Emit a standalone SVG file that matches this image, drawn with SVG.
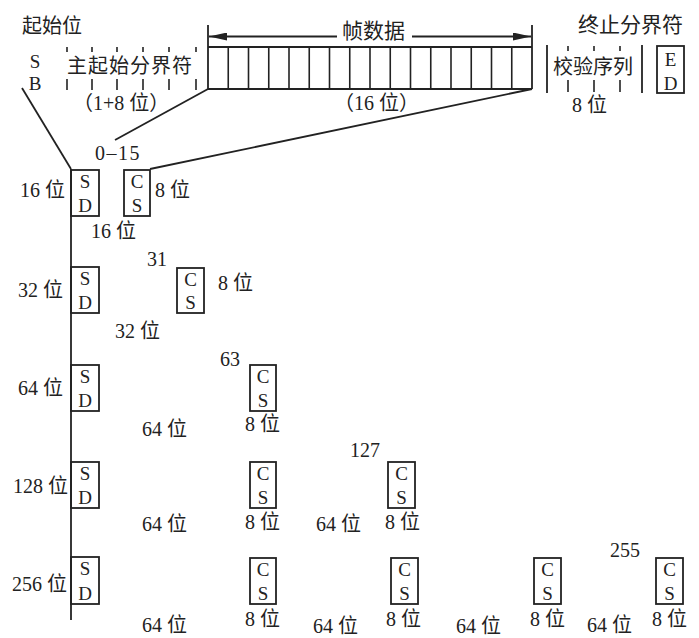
<svg xmlns="http://www.w3.org/2000/svg" width="699" height="638" viewBox="0 0 699 638">
<style>
.t{font-family:"Liberation Serif","Noto Sans CJK SC",serif;font-size:20px;fill:#222}
.c{font-family:"Noto Sans CJK SC","Liberation Serif",sans-serif;fill:#222}
.b{font-family:"Liberation Serif",serif;font-size:19px;fill:#222;text-anchor:middle}
.bx{fill:none;stroke:#222;stroke-width:1.8}
.ln{fill:none;stroke:#222;stroke-width:1.8}
.cell{stroke:#222;stroke-width:1.6}
.tk{stroke:#222;stroke-width:1.6}
</style>
<defs>
<marker id="ah" viewBox="0 0 18 8" refX="18" refY="4" markerWidth="18" markerHeight="8" markerUnits="userSpaceOnUse" orient="auto">
<path d="M0,0 L18,4 L0,8 Z" fill="#222"/>
</marker>
</defs>
<rect width="699" height="638" fill="#fff"/>

<g id="start-bit">
<text class="c" x="22" y="33" font-size="20">起始位</text>
<text class="b" x="35" y="68" font-size="16">S</text>
<text class="b" x="35" y="90" font-size="16">B</text>
</g>

<g id="main-delimiter">
<g class="tk">
<line x1="67" y1="47" x2="67" y2="52"/><line x1="92" y1="47" x2="92" y2="52"/><line x1="117" y1="47" x2="117" y2="52"/><line x1="143" y1="47" x2="143" y2="52"/><line x1="169" y1="47" x2="169" y2="52"/><line x1="196" y1="47" x2="196" y2="52"/>
<line x1="67" y1="79" x2="67" y2="90"/><line x1="92" y1="79" x2="92" y2="90"/><line x1="117" y1="79" x2="117" y2="90"/><line x1="143" y1="79" x2="143" y2="90"/><line x1="169" y1="79" x2="169" y2="90"/><line x1="196" y1="79" x2="196" y2="90"/>
</g>
<text class="c" x="67" y="73" font-size="20" textLength="125" lengthAdjust="spacing">主起始分界符</text>
<text class="t" x="73" y="110" font-size="19">（1+8 位）</text>
</g>

<g id="frame-data">
<line class="ln" x1="208" y1="25" x2="208" y2="89"/>
<line class="ln" x1="532" y1="25" x2="532" y2="89"/>
<line class="ln" x1="337" y1="36.5" x2="209" y2="36.5" marker-end="url(#ah)"/>
<line class="ln" x1="412" y1="36.5" x2="531" y2="36.5" marker-end="url(#ah)"/>
<text class="c" x="342" y="38" font-size="21">帧数据</text>
<line class="ln" x1="208" y1="47" x2="532" y2="47"/>
<line class="ln" x1="208" y1="89" x2="532" y2="89"/>
<g class="cell">
<line x1="228.25" y1="47" x2="228.25" y2="89"/><line x1="248.5" y1="47" x2="248.5" y2="89"/><line x1="268.75" y1="47" x2="268.75" y2="89"/><line x1="289" y1="47" x2="289" y2="89"/><line x1="309.25" y1="47" x2="309.25" y2="89"/><line x1="329.5" y1="47" x2="329.5" y2="89"/><line x1="349.75" y1="47" x2="349.75" y2="89"/><line x1="370" y1="47" x2="370" y2="89"/><line x1="390.25" y1="47" x2="390.25" y2="89"/><line x1="410.5" y1="47" x2="410.5" y2="89"/><line x1="430.75" y1="47" x2="430.75" y2="89"/><line x1="451" y1="47" x2="451" y2="89"/><line x1="471.25" y1="47" x2="471.25" y2="89"/><line x1="491.5" y1="47" x2="491.5" y2="89"/><line x1="511.75" y1="47" x2="511.75" y2="89"/>
</g>
<text class="t" x="334" y="110" font-size="19">（16 位）</text>
</g>

<g id="checksum">
<line class="ln" x1="547" y1="45" x2="547" y2="93"/>
<line class="ln" x1="642" y1="45" x2="642" y2="93"/>
<g class="tk">
<line x1="568" y1="46" x2="568" y2="51"/><line x1="594" y1="46" x2="594" y2="51"/><line x1="620" y1="46" x2="620" y2="51"/>
<line x1="568" y1="80" x2="568" y2="92"/><line x1="594" y1="80" x2="594" y2="92"/><line x1="620" y1="80" x2="620" y2="92"/>
</g>
<text class="c" x="553" y="74" font-size="20">校验序列</text>
<text class="t" x="572" y="112">8 位</text>
</g>

<g id="end-delimiter">
<text class="c" x="578" y="32" font-size="21">终止分界符</text>
<rect class="bx" x="657" y="46" width="27" height="47"/>
<text class="b" x="670.5" y="66">E</text>
<text class="b" x="670.5" y="90">D</text>
</g>

<g id="connectors">
<line class="ln" x1="22" y1="88" x2="71" y2="169"/>
<line class="ln" x1="71" y1="169" x2="71" y2="620"/>
<line class="ln" x1="208" y1="89" x2="115" y2="140"/>
<line class="ln" x1="532" y1="89" x2="150" y2="169"/>
</g>

<g id="row16">
<text class="t" x="95" y="160" font-size="19" letter-spacing="1.5">0–15</text>
<text class="t" x="20" y="197">16 位</text>
<rect class="bx" x="71" y="170" width="28" height="46"/>
<text class="b" x="85" y="188">S</text><text class="b" x="85" y="212">D</text>
<rect class="bx" x="124" y="170" width="26" height="46"/>
<text class="b" x="137" y="188">C</text><text class="b" x="137" y="212">S</text>
<text class="t" x="155" y="197">8 位</text>
<text class="t" x="91" y="238">16 位</text>
</g>

<g id="row32">
<text class="t" x="18" y="297">32 位</text>
<rect class="bx" x="71" y="267" width="28" height="46"/>
<text class="b" x="85" y="285">S</text><text class="b" x="85" y="309">D</text>
<text class="t" x="147" y="266">31</text>
<rect class="bx" x="177" y="268" width="27" height="45"/>
<text class="b" x="190.5" y="286">C</text><text class="b" x="190.5" y="309">S</text>
<text class="t" x="218" y="290">8 位</text>
<text class="t" x="115" y="338">32 位</text>
</g>

<g id="row64">
<text class="t" x="18" y="395">64 位</text>
<rect class="bx" x="71" y="365" width="28" height="46"/>
<text class="b" x="85" y="383">S</text><text class="b" x="85" y="407">D</text>
<text class="t" x="220" y="366">63</text>
<rect class="bx" x="250" y="365" width="26" height="46"/>
<text class="b" x="263" y="383">C</text><text class="b" x="263" y="407">S</text>
<text class="t" x="245" y="431">8 位</text>
<text class="t" x="142" y="436">64 位</text>
</g>

<g id="row128">
<text class="t" x="13" y="493">128 位</text>
<rect class="bx" x="71" y="462" width="28" height="46"/>
<text class="b" x="85" y="480">S</text><text class="b" x="85" y="504">D</text>
<rect class="bx" x="250" y="462" width="26" height="46"/>
<text class="b" x="263" y="480">C</text><text class="b" x="263" y="504">S</text>
<text class="t" x="350" y="457">127</text>
<rect class="bx" x="388" y="462" width="27" height="46"/>
<text class="b" x="401.5" y="480">C</text><text class="b" x="401.5" y="504">S</text>
<text class="t" x="142" y="531">64 位</text>
<text class="t" x="245" y="529">8 位</text>
<text class="t" x="316" y="531">64 位</text>
<text class="t" x="385" y="529">8 位</text>
</g>

<g id="row256">
<text class="t" x="12" y="591">256 位</text>
<rect class="bx" x="71" y="557" width="28" height="47"/>
<text class="b" x="85" y="575">S</text><text class="b" x="85" y="600">D</text>
<rect class="bx" x="250" y="558" width="26" height="46"/>
<text class="b" x="263" y="576">C</text><text class="b" x="263" y="600">S</text>
<rect class="bx" x="391" y="558" width="27" height="46"/>
<text class="b" x="404.5" y="576">C</text><text class="b" x="404.5" y="600">S</text>
<rect class="bx" x="534" y="558" width="27" height="46"/>
<text class="b" x="547.5" y="576">C</text><text class="b" x="547.5" y="600">S</text>
<text class="t" x="610" y="557">255</text>
<rect class="bx" x="656" y="558" width="27" height="46"/>
<text class="b" x="669.5" y="576">C</text><text class="b" x="669.5" y="600">S</text>
<text class="t" x="245" y="626">8 位</text>
<text class="t" x="386" y="626">8 位</text>
<text class="t" x="530" y="626">8 位</text>
<text class="t" x="652" y="626">8 位</text>
<text class="t" x="142" y="632">64 位</text>
<text class="t" x="313" y="633">64 位</text>
<text class="t" x="456" y="633">64 位</text>
<text class="t" x="587" y="632">64 位</text>
</g>
</svg>
